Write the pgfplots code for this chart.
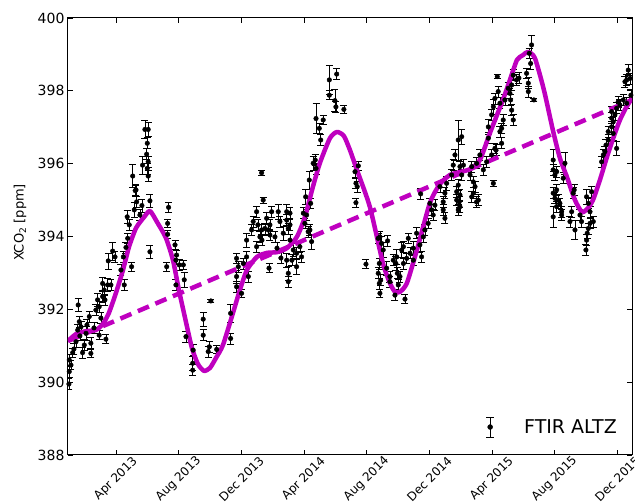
\documentclass[border=0pt]{standalone}
\usepackage{fontspec}
\setmainfont{DejaVu Sans}
\usepackage{pgfplots}
\pgfplotsset{compat=1.18}
\definecolor{fitm}{RGB}{191,0,191}
\begin{document}
\begin{tikzpicture}
\begin{axis}[
 name=ax,
 scale only axis,
 width=564pt, height=437pt,
 xmin=-0.06, xmax=35.94,
 ymin=388, ymax=400,
 ytick={388,390,...,400},
 xtick={3,7,11,15,19,23,27,31,35},
 xticklabels={Apr 2013, Aug 2013, Dec 2013, Apr 2014, Aug 2014, Dec 2014, Apr 2015, Aug 2015, Dec 2015},
 xticklabel style={font=\fontsize{12}{14}\selectfont, rotate=45, anchor=center, xshift=-17pt, yshift=-17pt},
 yticklabel style={font=\fontsize{14}{16}\selectfont},
 /pgf/number format/assume math mode=true,
 ylabel={XCO\textsubscript{2} [ppm]},
 ylabel style={font=\fontsize{13}{15}\selectfont, at={(axis description cs:0,0.5)}, anchor=center, yshift=48pt, xshift=14pt},
 tick align=inside,
 major tick length=5pt,
 axis line style={line width=1pt},
 tick style={line width=0.8pt, black},
 legend style={draw=none, fill=none, at={(1,0.064)}, anchor=east, xshift=-13pt, font=\fontsize{19}{21}\selectfont, inner sep=0pt},
 legend cell align=left,
]
\addplot[only marks, mark=*, mark size=2.3pt, black,
 legend image code/.code={
  \draw[black, line width=0.8pt] (0pt,-10pt) -- (0pt,10pt);
  \draw[black, line width=0.8pt] (-4pt,-10pt) -- (4pt,-10pt);
  \draw[black, line width=0.8pt] (-4pt,10pt) -- (4pt,10pt);
  \fill[black] (0pt,0pt) circle (2.5pt);
  \path[draw=none] (-5pt,0pt) -- (32pt,0pt);
 },
 error bars/.cd, y dir=both, y explicit,
 error bar style={line width=0.7pt, black},
 error mark options={rotate=90, mark size=3.5pt, line width=0.7pt, black}]
table[x=x, y=y, y error=e] {
x y e
0.00 389.95 0.15
0.02 390.29 0.15
0.02 390.61 0.15
0.13 390.47 0.12
0.24 390.81 0.12
0.32 390.91 0.15
0.45 391.11 0.15
0.56 391.43 0.15
0.59 392.12 0.18
0.66 391.66 0.15
0.70 391.27 0.12
0.77 391.52 0.15
0.87 390.81 0.15
0.98 391.02 0.15
1.09 391.34 0.18
1.15 391.57 0.15
1.30 391.80 0.15
1.40 391.07 0.15
1.40 390.79 0.12
1.60 391.49 0.15
1.72 391.98 0.15
1.83 392.26 0.18
1.93 392.07 0.15
1.93 391.29 0.12
2.04 391.76 0.15
2.15 392.71 0.18
2.15 392.35 0.15
2.25 392.53 0.15
2.30 392.26 0.15
2.36 391.18 0.12
2.47 392.67 0.18
2.51 393.33 0.22
2.68 392.67 0.15
2.79 393.60 0.25
2.94 393.44 0.15
3.32 393.08 0.15
3.47 393.44 0.15
3.53 392.67 0.15
3.64 393.70 0.15
3.72 394.54 0.18
3.75 393.95 0.15
3.85 394.32 0.15
4.00 393.17 0.12
4.07 395.66 0.32
4.17 394.73 0.20
4.23 395.26 0.15
4.28 395.28 0.15
4.32 394.95 0.15
4.53 394.59 0.15
4.66 394.85 0.18
4.70 395.96 0.25
4.85 396.94 0.25
4.96 396.26 0.15
5.00 396.56 0.15
5.00 395.87 0.15
5.06 396.94 0.20
5.06 396.05 0.15
5.06 395.66 0.15
5.17 394.98 0.18
5.17 393.58 0.18
6.24 393.17 0.12
6.30 394.36 0.12
6.30 394.06 0.12
6.36 394.80 0.15
6.77 393.77 0.12
6.83 393.35 0.12
6.87 393.49 0.12
6.83 392.67 0.15
7.04 393.22 0.15
7.30 393.22 0.12
7.36 392.81 0.20
7.47 391.25 0.15
7.90 390.52 0.20
7.90 390.33 0.15
7.93 390.88 0.15
8.57 391.73 0.20
8.57 391.29 0.15
8.89 390.84 0.15
8.96 390.97 0.15
9.06 392.23 0.05
9.43 390.90 0.12
10.32 391.89 0.25
10.32 391.20 0.15
10.70 392.62 0.15
10.70 392.90 0.18
10.81 393.17 0.15
10.70 393.40 0.15
11.02 392.44 0.12
11.13 393.26 0.15
11.34 393.44 0.15
11.34 393.90 0.20
11.45 392.90 0.15
11.66 394.18 0.15
11.76 394.41 0.15
11.98 394.68 0.15
11.98 393.72 0.15
12.06 394.32 0.15
12.19 393.99 0.15
12.30 395.75 0.08
12.30 394.18 0.15
12.32 393.90 0.15
12.40 395.00 0.08
12.51 394.22 0.15
12.62 394.50 0.15
12.72 394.18 0.15
12.77 393.13 0.12
12.83 394.32 0.15
12.83 394.04 0.15
12.94 394.68 0.15
13.15 393.99 0.15
13.28 393.68 0.15
13.36 394.68 0.20
13.47 394.41 0.15
13.53 393.41 0.15
13.68 394.09 0.20
13.90 394.68 0.20
13.90 394.45 0.15
13.90 393.35 0.20
14.00 394.22 0.15
14.00 392.99 0.20
14.00 392.76 0.15
14.11 394.64 0.15
14.11 393.90 0.15
14.11 394.32 0.15
14.23 393.35 0.15
14.32 393.63 0.18
14.53 393.17 0.20
14.53 393.54 0.15
14.74 393.72 0.15
14.85 393.44 0.15
14.96 394.64 0.15
15.06 394.36 0.15
15.11 395.09 0.20
15.17 394.59 0.15
15.27 394.13 0.15
15.34 395.55 0.25
15.38 394.18 0.15
15.43 394.91 0.15
15.49 393.86 0.20
15.59 396.01 0.20
15.72 396.10 0.15
15.77 397.24 0.42
15.77 395.87 0.15
15.98 396.97 0.15
16.07 396.65 0.15
16.23 397.20 0.12
16.62 398.30 0.40
16.62 397.88 0.12
16.98 397.73 0.30
17.04 397.56 0.15
17.09 398.46 0.15
17.55 397.49 0.10
18.26 395.78 0.15
18.47 395.94 0.12
18.32 395.46 0.15
18.40 395.37 0.15
18.32 394.93 0.12
18.96 393.24 0.12
19.74 393.95 0.15
19.85 393.99 0.15
19.96 393.81 0.20
20.34 393.88 0.15
20.06 393.63 0.20
19.81 393.26 0.15
19.74 392.99 0.15
19.90 392.80 0.15
19.81 392.71 0.15
19.85 392.44 0.12
20.28 393.13 0.20
20.49 392.90 0.15
20.49 392.76 0.15
20.70 393.35 0.15
20.87 393.26 0.20
20.81 392.39 0.15
20.92 393.44 0.20
20.96 392.99 0.15
21.02 392.67 0.15
21.13 392.90 0.15
21.24 393.63 0.20
21.35 393.72 0.15
21.35 393.26 0.15
21.45 392.28 0.12
21.56 393.40 0.15
21.66 393.95 0.15
21.77 393.54 0.15
21.98 393.68 0.20
21.98 393.35 0.15
22.19 394.09 0.15
22.40 393.77 0.20
22.45 395.17 0.15
22.51 393.44 0.15
22.62 393.99 0.15
22.72 394.18 0.15
22.93 394.36 0.15
23.04 394.91 0.15
23.15 394.73 0.15
23.25 394.59 0.15
23.36 394.86 0.15
23.68 395.37 0.15
23.89 394.95 0.15
23.89 394.73 0.15
24.00 394.50 0.15
24.00 395.19 0.15
24.11 395.46 0.20
24.43 395.69 0.15
24.53 395.96 0.15
24.64 396.24 0.15
24.75 395.23 0.15
24.75 395.00 0.15
24.85 396.65 0.55
24.85 395.41 0.15
24.85 394.73 0.15
24.91 394.95 0.15
24.96 395.92 0.15
24.96 394.82 0.15
24.96 395.14 0.15
25.07 396.74 0.20
25.07 395.69 0.15
25.18 395.96 0.15
25.60 395.69 0.15
25.71 395.92 0.15
25.71 395.09 0.15
25.81 395.50 0.15
25.81 395.19 0.15
25.92 395.37 0.15
26.02 396.01 0.15
26.02 394.95 0.15
26.13 395.00 0.15
26.23 396.24 0.15
26.45 395.83 0.15
26.66 396.05 0.15
26.77 397.01 0.20
26.77 396.70 0.15
26.98 396.24 0.15
26.98 397.34 0.15
27.09 395.46 0.08
27.09 397.56 0.20
27.19 396.42 0.15
27.19 397.79 0.15
27.26 396.37 0.15
27.34 398.39 0.05
27.40 397.98 0.15
27.51 397.66 0.15
27.51 396.88 0.15
27.62 396.97 0.15
27.62 396.56 0.15
27.72 397.20 0.15
27.83 397.75 0.15
28.04 398.07 0.15
28.15 397.93 0.15
28.19 397.75 0.15
28.26 398.16 0.15
28.26 397.47 0.15
28.36 398.43 0.15
28.36 397.20 0.15
28.57 398.30 0.15
28.72 398.35 0.15
29.21 398.48 0.15
29.32 398.21 0.15
29.32 397.98 0.15
29.38 399.03 0.15
29.47 398.75 0.15
29.53 399.26 0.25
29.68 397.75 0.05
30.91 396.10 0.30
30.91 395.83 0.15
31.13 395.78 0.15
31.02 395.69 0.15
31.66 396.01 0.30
31.55 395.60 0.15
31.13 395.28 0.15
30.91 395.19 0.15
31.02 395.05 0.15
31.23 395.00 0.15
31.34 394.91 0.15
31.13 394.82 0.15
31.45 394.68 0.15
30.91 394.54 0.30
31.45 394.59 0.15
32.19 395.19 0.15
32.25 395.28 0.15
32.09 394.68 0.15
31.98 394.41 0.15
32.30 394.18 0.25
32.62 394.59 0.15
32.72 394.41 0.15
33.04 395.09 0.20
33.15 394.91 0.15
33.26 394.68 0.15
33.26 394.36 0.15
33.47 394.41 0.15
33.15 394.22 0.15
33.08 394.09 0.15
33.04 393.90 0.15
33.00 393.63 0.15
33.36 395.23 0.15
34.00 396.05 0.15
34.11 396.24 0.15
34.21 396.33 0.15
34.28 396.51 0.15
34.42 396.65 0.15
34.42 396.88 0.15
34.64 397.01 0.15
34.74 397.15 0.15
34.74 396.83 0.20
34.85 397.34 0.15
34.96 397.52 0.15
34.96 396.42 0.20
35.06 397.70 0.15
35.17 397.61 0.15
35.38 397.75 0.15
35.49 398.25 0.15
35.60 397.66 0.15
35.60 398.30 0.15
35.70 398.57 0.15
35.81 398.34 0.15
35.87 397.88 0.15
34.64 397.43 0.15
34.64 397.25 0.15
};
\addlegendentry{FTIR ALTZ}
\addplot[fitm, line width=4.5pt, line join=round, smooth, tension=0.4, forget plot] coordinates {
(-0.06,391.13) (0.45,391.32) (1.09,391.40) (1.72,391.43) (2.17,391.60) (2.55,391.90)
(3.00,392.45) (3.45,393.08) (3.83,393.71) (4.28,394.23) (4.79,394.53) (5.17,394.70)
(5.62,394.40) (6.19,393.96) (6.64,393.35) (7.02,392.53) (7.47,391.65) (7.85,390.94)
(8.23,390.50) (8.62,390.31) (9.00,390.39) (9.38,390.66) (9.83,391.02) (10.47,391.90)
(10.91,392.53) (11.36,393.08) (12.00,393.44) (12.64,393.55) (13.28,393.57) (13.91,393.68)
(14.55,393.99) (15.06,394.53) (15.57,395.36) (16.02,396.02) (16.66,396.70) (17.11,396.87)
(17.55,396.76) (17.94,396.37) (18.38,395.83) (19.21,394.81) (20.04,393.27) (20.49,392.72)
(20.81,392.48) (21.13,392.48) (21.57,392.72) (22.21,393.63) (23.04,394.92) (23.68,395.44)
(24.32,395.69) (24.96,395.77) (25.60,395.85) (26.23,396.10) (26.87,396.84) (27.70,397.75)
(28.15,398.30) (28.60,398.85) (28.98,398.98) (29.30,399.07) (29.74,398.90) (30.32,398.02)
(30.89,396.92) (31.34,396.15) (31.79,395.63) (32.30,395.00) (32.75,394.67) (33.13,394.78)
(33.45,395.00) (33.89,395.55) (34.34,396.18) (34.79,396.76) (35.17,397.20) (35.55,397.53)
(35.94,397.80)
};
\addplot[fitm, line width=4.5pt, dash pattern=on 12pt off 7pt, forget plot] coordinates {
(-0.06,391.13) (35.94,397.75)
};
\end{axis}
\pgfresetboundingbox
\path[use as bounding box] ([xshift=-68pt,yshift=-48pt]ax.south west) rectangle ([xshift=3pt,yshift=18pt]ax.north east);
\end{tikzpicture}
\end{document}
